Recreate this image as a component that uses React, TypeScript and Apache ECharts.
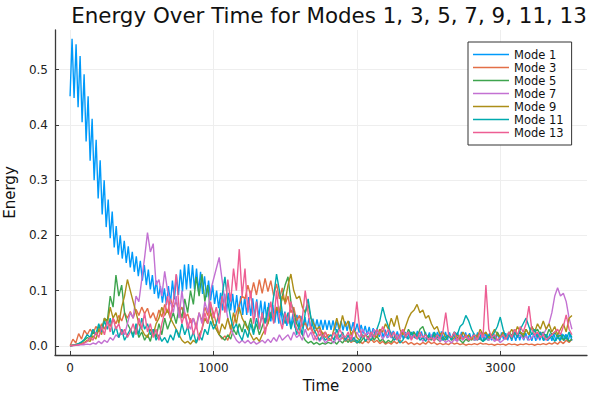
import React, { useEffect, useRef } from "react";
import * as echarts from "echarts";

// ---- data -------------------------------------------------------------
const TITLE = "Energy Over Time for Modes 1, 3, 5, 7, 9, 11, 13";
const X_NAME = "Time";
const Y_NAME = "Energy";
const X_TICKS = [0, 1000, 2000, 3000];
const Y_TICKS = [0, 0.1, 0.2, 0.3, 0.4, 0.5];
const MODE_NAMES = ["Mode 1", "Mode 3", "Mode 5", "Mode 7", "Mode 9", "Mode 11", "Mode 13"];

// sampling interval (time units) of each stored series
const STEP_MODE1 = 14;
const STEP_OTHERS = 20;

// Mode 1 : peak / trough readings every half oscillation
const mode1 = [
  0.452,
  0.556, 0.449, 0.546, 0.432, 0.525, 0.405, 0.492, 0.370, 0.452, 0.335,
  0.411, 0.300, 0.373, 0.267, 0.336, 0.238, 0.300, 0.215, 0.265, 0.195,
  0.243, 0.178, 0.217, 0.165, 0.200, 0.158, 0.190, 0.150, 0.180, 0.142,
  0.170, 0.134, 0.162, 0.126, 0.154, 0.118, 0.146, 0.110, 0.138, 0.102,
  0.128, 0.094, 0.118, 0.086, 0.108, 0.078, 0.104, 0.074, 0.108, 0.076,
  0.118, 0.084, 0.128, 0.092, 0.138, 0.098, 0.147, 0.102, 0.148, 0.104,
  0.146, 0.102, 0.140, 0.098, 0.134, 0.094, 0.126, 0.088, 0.118, 0.082,
  0.110, 0.076, 0.100, 0.068, 0.096, 0.064, 0.094, 0.062, 0.096, 0.064,
  0.094, 0.060, 0.092, 0.058, 0.090, 0.056, 0.088, 0.056, 0.088, 0.054,
  0.086, 0.052, 0.084, 0.050, 0.082, 0.048, 0.080, 0.046, 0.078, 0.044,
  0.074, 0.042, 0.070, 0.040, 0.066, 0.038, 0.062, 0.036, 0.060, 0.034,
  0.058, 0.033, 0.056, 0.032, 0.054, 0.031, 0.052, 0.030, 0.050, 0.030,
  0.049, 0.030, 0.048, 0.030, 0.047, 0.029, 0.047, 0.029, 0.046, 0.029,
  0.046, 0.028, 0.045, 0.028, 0.045, 0.028, 0.044, 0.027, 0.044, 0.027,
  0.043, 0.026, 0.040, 0.024, 0.038, 0.022, 0.036, 0.020, 0.034, 0.018,
  0.032, 0.017, 0.031, 0.016, 0.030, 0.015, 0.029, 0.014, 0.028, 0.014,
  0.027, 0.013, 0.026, 0.013, 0.026, 0.012, 0.025, 0.012, 0.025, 0.012,
  0.026, 0.013, 0.027, 0.013, 0.026, 0.012, 0.025, 0.012, 0.024, 0.011,
  0.024, 0.011, 0.025, 0.012, 0.026, 0.012, 0.025, 0.011, 0.024, 0.011,
  0.023, 0.010, 0.024, 0.011, 0.025, 0.012, 0.024, 0.011, 0.023, 0.010,
  0.023, 0.010, 0.024, 0.011, 0.025, 0.011, 0.024, 0.010, 0.023, 0.010,
  0.022, 0.010, 0.023, 0.010, 0.024, 0.011, 0.023, 0.010, 0.022, 0.009,
  0.022, 0.009, 0.023, 0.010, 0.024, 0.010, 0.023, 0.010, 0.022, 0.009,
  0.022, 0.009, 0.023, 0.010, 0.022, 0.009, 0.021, 0.009, 0.022, 0.009,
  0.022, 0.009, 0.021, 0.009, 0.022, 0.009, 0.021, 0.008, 0.022, 0.009,
];

const mode3 = [
  0, 0.012, 0.005, 0.022, 0.012, 0.028,
  0.02, 0.03, 0.022, 0.035, 0.028, 0.04, 0.03, 0.045, 0.035, 0.05, 0.04, 0.055, 0.045, 0.06, 0.05,
  0.062, 0.05, 0.066, 0.055, 0.07, 0.058, 0.068, 0.05, 0.06, 0.045, 0.065, 0.052, 0.075, 0.06, 0.085,
  0.07, 0.08, 0.06, 0.07, 0.05, 0.058, 0.042, 0.05, 0.035, 0.06, 0.045, 0.07, 0.055, 0.075, 0.06,
  0.04, 0.02, 0.012, 0.018, 0.01, 0.025, 0.04, 0.06, 0.075, 0.09,
  0.085, 0.11, 0.09, 0.115, 0.092, 0.12, 0.095, 0.122, 0.098, 0.118, 0.09, 0.112, 0.085, 0.105,
  0.075, 0.09, 0.06, 0.07, 0.045, 0.055, 0.035, 0.042, 0.028, 0.035, 0.022, 0.03, 0.018, 0.025, 0.015, 0.02,
  0.018, 0.012, 0.02, 0.01, 0.015, 0.008, 0.012, 0.006, 0.01, 0.005,
  0.008, 0.004, 0.01, 0.005, 0.012, 0.006, 0.01, 0.004, 0.008, 0.003,
  0.006, 0.003, 0.008, 0.004, 0.01, 0.005, 0.008, 0.003, 0.006, 0.002,
  0.005, 0.002, 0.006, 0.003, 0.008, 0.004, 0.006, 0.002, 0.005, 0.002,
  0.004, 0.002, 0.006, 0.003, 0.005, 0.002, 0.004, 0.001, 0.003, 0.002,
  0.004, 0.002, 0.005, 0.003, 0.004, 0.002, 0.003, 0.001, 0.003, 0.002,
  0.003, 0.001, 0.004, 0.002, 0.003, 0.001, 0.003, 0.002, 0.004, 0.002,
  0.003, 0.001, 0.003, 0.002, 0.004, 0.002, 0.005, 0.003, 0.006, 0.003,
  0.008, 0.004, 0.01, 0.006, 0.012,
];

const mode5 = [
  0, 0.001, 0.002, 0.004, 0.006, 0.01,
  0.015, 0.012, 0.025, 0.02, 0.035, 0.03, 0.05, 0.045, 0.09, 0.07, 0.128, 0.09, 0.11, 0.06, 0.04,
  0.03, 0.02, 0.035, 0.015, 0.025, 0.01, 0.02, 0.008, 0.03, 0.015, 0.04, 0.02, 0.05, 0.03, 0.045,
  0.06, 0.04, 0.07, 0.05, 0.085, 0.06, 0.1, 0.075, 0.125, 0.09, 0.13, 0.08, 0.11, 0.06, 0.04,
  0.03, 0.02, 0.015, 0.01, 0.02, 0.012, 0.03, 0.02, 0.04, 0.025,
  0.045, 0.03, 0.05, 0.025, 0.04, 0.02, 0.035, 0.05, 0.04, 0.06, 0.045, 0.07, 0.06, 0.09,
  0.11, 0.125, 0.08, 0.06, 0.04, 0.03, 0.02, 0.01, 0.005, 0.008, 0.003, 0.006, 0.002, 0.005, 0.003, 0.006,
  0.004, 0.008, 0.003, 0.01, 0.005, 0.012, 0.006, 0.015, 0.008, 0.01,
  0.005, 0.012, 0.02, 0.015, 0.025, 0.01, 0.018, 0.008, 0.012, 0.005,
  0.01, 0.006, 0.015, 0.02, 0.012, 0.025, 0.015, 0.03, 0.02, 0.025,
  0.015, 0.03, 0.035, 0.02, 0.015, 0.01, 0.02, 0.012, 0.008, 0.015,
  0.01, 0.02, 0.012, 0.025, 0.015, 0.01, 0.005, 0.012, 0.008, 0.015,
  0.01, 0.02, 0.012, 0.008, 0.015, 0.01, 0.02, 0.012, 0.025, 0.015,
  0.02, 0.012, 0.025, 0.018, 0.03, 0.02, 0.025, 0.015, 0.03, 0.02,
  0.035, 0.025, 0.03, 0.02, 0.025, 0.015, 0.03, 0.02, 0.025, 0.015,
  0.02, 0.01, 0.015, 0.008, 0.012,
];

const mode7 = [
  0, 0, 0.001, 0.001, 0.002, 0.002,
  0.003, 0.002, 0.005, 0.003, 0.008, 0.004, 0.01, 0.006, 0.015, 0.01, 0.02, 0.015, 0.03, 0.02, 0.04,
  0.06, 0.05, 0.09, 0.08, 0.12, 0.16, 0.205, 0.17, 0.185, 0.11, 0.12, 0.09, 0.135, 0.1, 0.08,
  0.06, 0.09, 0.05, 0.1, 0.06, 0.04, 0.03, 0.05, 0.03, 0.06, 0.04, 0.08, 0.06, 0.1, 0.12,
  0.14, 0.16, 0.12, 0.08, 0.05, 0.03, 0.02, 0.01, 0.005, 0.01,
  0.005, 0.01, 0.004, 0.008, 0.003, 0.006, 0.01, 0.005, 0.012, 0.006, 0.015, 0.008, 0.02, 0.01,
  0.015, 0.02, 0.01, 0.025, 0.015, 0.02, 0.01, 0.03, 0.015, 0.025, 0.01, 0.02, 0.008, 0.015, 0.005, 0.01,
  0.01, 0.005, 0.015, 0.008, 0.02, 0.01, 0.015, 0.02, 0.01, 0.025,
  0.015, 0.03, 0.02, 0.025, 0.015, 0.03, 0.02, 0.025, 0.012, 0.02,
  0.015, 0.025, 0.01, 0.02, 0.012, 0.03, 0.02, 0.025, 0.015, 0.02,
  0.012, 0.018, 0.008, 0.015, 0.01, 0.02, 0.012, 0.015, 0.008, 0.012,
  0.006, 0.01, 0.005, 0.012, 0.008, 0.015, 0.01, 0.02, 0.012, 0.015,
  0.01, 0.018, 0.012, 0.02, 0.015, 0.01, 0.015, 0.008, 0.012, 0.006,
  0.01, 0.015, 0.02, 0.012, 0.025, 0.015, 0.02, 0.012, 0.018, 0.01,
  0.015, 0.02, 0.012, 0.025, 0.02, 0.03, 0.04, 0.06, 0.09, 0.105,
  0.09, 0.095, 0.08, 0.05, 0.03,
];

const mode9 = [
  0, 0.001, 0.002, 0.003, 0.004, 0.006,
  0.01, 0.008, 0.018, 0.012, 0.03, 0.02, 0.05, 0.04, 0.07, 0.05, 0.06, 0.04, 0.07, 0.09, 0.12,
  0.1, 0.08, 0.06, 0.04, 0.03, 0.02, 0.015, 0.03, 0.02, 0.04, 0.05, 0.07, 0.055, 0.065, 0.05,
  0.04, 0.03, 0.02, 0.01, 0.005, 0.008, 0.003, 0.01, 0.005, 0.02, 0.03, 0.05, 0.04, 0.06, 0.04,
  0.03, 0.02, 0.04, 0.03, 0.05, 0.03, 0.06, 0.04, 0.07, 0.05,
  0.04, 0.03, 0.02, 0.01, 0.015, 0.008, 0.02, 0.03, 0.04, 0.06, 0.05, 0.07, 0.06, 0.09,
  0.08, 0.11, 0.13, 0.1, 0.085, 0.09, 0.07, 0.06, 0.075, 0.05, 0.04, 0.03, 0.035, 0.02, 0.025, 0.015,
  0.01, 0.03, 0.05, 0.03, 0.055, 0.035, 0.045, 0.02, 0.03, 0.015,
  0.01, 0.02, 0.008, 0.015, 0.01, 0.02, 0.015, 0.03, 0.025, 0.04,
  0.03, 0.05, 0.035, 0.055, 0.03, 0.02, 0.035, 0.05, 0.06, 0.065,
  0.075, 0.06, 0.065, 0.05, 0.055, 0.04, 0.03, 0.035, 0.02, 0.025,
  0.015, 0.02, 0.01, 0.015, 0.02, 0.012, 0.025, 0.015, 0.02, 0.01,
  0.02, 0.015, 0.03, 0.02, 0.025, 0.015, 0.02, 0.03, 0.02, 0.015,
  0.025, 0.015, 0.02, 0.03, 0.02, 0.035, 0.025, 0.02, 0.03, 0.02,
  0.035, 0.025, 0.04, 0.03, 0.045, 0.03, 0.04, 0.025, 0.035, 0.02,
  0.03, 0.04, 0.025, 0.05, 0.055,
];

const mode11 = [
  0, 0.001, 0.002, 0.004, 0.007, 0.012,
  0.02, 0.015, 0.03, 0.02, 0.04, 0.025, 0.045, 0.03, 0.05, 0.02, 0.035, 0.015, 0.03, 0.01, 0.02,
  0.03, 0.015, 0.04, 0.02, 0.05, 0.03, 0.04, 0.02, 0.03, 0.01, 0.02, 0.008, 0.015, 0.005, 0.02,
  0.01, 0.03, 0.015, 0.04, 0.02, 0.035, 0.01, 0.025, 0.005, 0.02, 0.01, 0.03, 0.02, 0.045, 0.03,
  0.04, 0.06, 0.09, 0.125, 0.08, 0.05, 0.03, 0.04, 0.02, 0.01,
  0.03, 0.015, 0.04, 0.02, 0.05, 0.03, 0.06, 0.04, 0.07, 0.05, 0.09, 0.13, 0.1, 0.06,
  0.04, 0.06, 0.03, 0.05, 0.02, 0.04, 0.02, 0.06, 0.085, 0.05, 0.03, 0.02, 0.01, 0.02, 0.01, 0.015,
  0.02, 0.01, 0.03, 0.015, 0.025, 0.01, 0.02, 0.008, 0.015, 0.005,
  0.01, 0.02, 0.008, 0.015, 0.01, 0.02, 0.03, 0.045, 0.07, 0.05,
  0.035, 0.02, 0.01, 0.015, 0.005, 0.01, 0.02, 0.012, 0.025, 0.015,
  0.02, 0.01, 0.015, 0.008, 0.02, 0.012, 0.025, 0.015, 0.02, 0.01,
  0.015, 0.02, 0.01, 0.025, 0.02, 0.035, 0.04, 0.055, 0.045, 0.03,
  0.02, 0.01, 0.015, 0.008, 0.012, 0.02, 0.015, 0.025, 0.035, 0.052,
  0.03, 0.015, 0.02, 0.012, 0.025, 0.015, 0.03, 0.04, 0.05, 0.035,
  0.02, 0.03, 0.015, 0.025, 0.01, 0.02, 0.012, 0.018, 0.008, 0.015,
  0.01, 0.02, 0.012, 0.025, 0.015,
];

const mode13 = [
  0, 0.001, 0.001, 0.002, 0.003, 0.005,
  0.008, 0.015, 0.01, 0.025, 0.015, 0.035, 0.02, 0.045, 0.025, 0.05, 0.03, 0.04, 0.02, 0.03, 0.015,
  0.025, 0.04, 0.02, 0.05, 0.03, 0.06, 0.025, 0.04, 0.015, 0.03, 0.01, 0.04, 0.06, 0.09, 0.05,
  0.08, 0.13, 0.07, 0.04, 0.06, 0.03, 0.05, 0.02, 0.04, 0.01, 0.03, 0.06, 0.04, 0.08, 0.05,
  0.07, 0.04, 0.09, 0.06, 0.12, 0.08, 0.14, 0.1, 0.175, 0.09,
  0.14, 0.06, 0.1, 0.04, 0.08, 0.03, 0.06, 0.02, 0.05, 0.08, 0.04, 0.1, 0.05, 0.03,
  0.06, 0.04, 0.08, 0.05, 0.03, 0.02, 0.05, 0.1, 0.06, 0.03, 0.02, 0.01, 0.03, 0.015, 0.025, 0.01,
  0.01, 0.025, 0.015, 0.03, 0.02, 0.015, 0.025, 0.01, 0.03, 0.08,
  0.03, 0.015, 0.02, 0.01, 0.025, 0.015, 0.03, 0.02, 0.035, 0.02,
  0.03, 0.015, 0.025, 0.01, 0.02, 0.03, 0.015, 0.025, 0.01, 0.02,
  0.012, 0.025, 0.015, 0.02, 0.01, 0.015, 0.008, 0.02, 0.012, 0.025,
  0.06, 0.02, 0.015, 0.025, 0.01, 0.02, 0.012, 0.018, 0.01, 0.015,
  0.02, 0.01, 0.025, 0.015, 0.11, 0.03, 0.015, 0.02, 0.01, 0.015,
  0.02, 0.012, 0.025, 0.015, 0.03, 0.02, 0.035, 0.025, 0.04, 0.072,
  0.03, 0.02, 0.025, 0.015, 0.02, 0.01, 0.015, 0.02, 0.025, 0.03,
  0.02, 0.035, 0.056, 0.03, 0.02,
];

const SERIES_VALUES = [mode1, mode3, mode5, mode7, mode9, mode11, mode13];
const SERIES_STEPS = [STEP_MODE1, STEP_OTHERS, STEP_OTHERS, STEP_OTHERS, STEP_OTHERS, STEP_OTHERS, STEP_OTHERS];

// ---- styling ------------------------------------------------------------
const COLORS = ["#009AFA", "#E36F47", "#3EA44E", "#C371D2", "#AC8E18", "#00AAAE", "#ED5E93"];
const FONT = "DejaVu Sans";
const AXIS_COLOR = "#3a3a3a";
const GRID_COLOR = "#eeeeee";

export default function App() {
  const ref = useRef<HTMLDivElement>(null);

  useEffect(() => {
    if (!ref.current) return;
    const chart = echarts.init(ref.current, null, { renderer: "svg" });

    const series = SERIES_VALUES.map((vals, k) => ({
      name: MODE_NAMES[k],
      type: "line",
      data: vals.map((v, i) => [i * SERIES_STEPS[k], v]),
      showSymbol: false,
      symbol: "none",
      lineStyle: { width: 1.4, color: COLORS[k] },
      itemStyle: { color: COLORS[k] },
      emphasis: { disabled: true },
    }));

    chart.setOption({
      animation: false,
      backgroundColor: "#ffffff",
      title: {
        text: TITLE,
        left: 324,
        top: 0,
        textAlign: "center",
        textStyle: { fontFamily: FONT, fontSize: 21.4, fontWeight: "normal", color: "#111" },
      },
      grid: {
        left: 55,
        right: 13,
        top: 30,
        bottom: 45,
        containLabel: false,
        outerBoundsMode: "none",
      },
      legend: {
        orient: "vertical",
        left: 468,
        top: 42,
        icon: "rect",
        itemWidth: 36,
        itemHeight: 1.5,
        itemGap: 0,
        padding: [6, 8, 6, 5],
        borderColor: "#333",
        borderWidth: 1,
        borderRadius: 0,
        backgroundColor: "#ffffff",
        data: MODE_NAMES,
        textStyle: { fontFamily: FONT, fontSize: 11.5, lineHeight: 13, color: "#111" },
      },
      xAxis: {
        type: "value",
        min: -105,
        max: 3605,
        name: X_NAME,
        nameLocation: "middle",
        nameGap: 23,
        nameTextStyle: { fontFamily: FONT, fontSize: 15, color: "#111" },
        axisLine: { show: true, onZero: false, lineStyle: { color: AXIS_COLOR, width: 1.3 } },
        axisTick: { show: true, inside: true, length: 4, customValues: X_TICKS, lineStyle: { color: AXIS_COLOR } },
        axisLabel: {
          customValues: X_TICKS,
          margin: 7,
          fontFamily: FONT,
          fontSize: 12,
          color: "#222",
          formatter: (v: number) => String(v),
        },
        splitLine: { show: true, lineStyle: { color: GRID_COLOR, width: 1 } },
      },
      yAxis: {
        type: "value",
        min: -0.0167,
        max: 0.572,
        name: Y_NAME,
        nameLocation: "middle",
        nameGap: 38,
        nameTextStyle: { fontFamily: FONT, fontSize: 15, color: "#111" },
        axisLine: { show: true, onZero: false, lineStyle: { color: AXIS_COLOR, width: 1.3 } },
        axisTick: { show: true, inside: true, length: 4, customValues: Y_TICKS, lineStyle: { color: AXIS_COLOR } },
        axisLabel: {
          customValues: Y_TICKS,
          margin: 7,
          fontFamily: FONT,
          fontSize: 12,
          color: "#222",
          formatter: (v: number) => v.toFixed(1),
        },
        splitLine: { show: true, lineStyle: { color: GRID_COLOR, width: 1 } },
      },
      series,
    });

    return () => chart.dispose();
  }, []);

  return (
    <div
      ref={ref}
      style={{ position: "fixed", left: 0, top: 0, width: 600, height: 400, background: "#fff" }}
    />
  );
}
